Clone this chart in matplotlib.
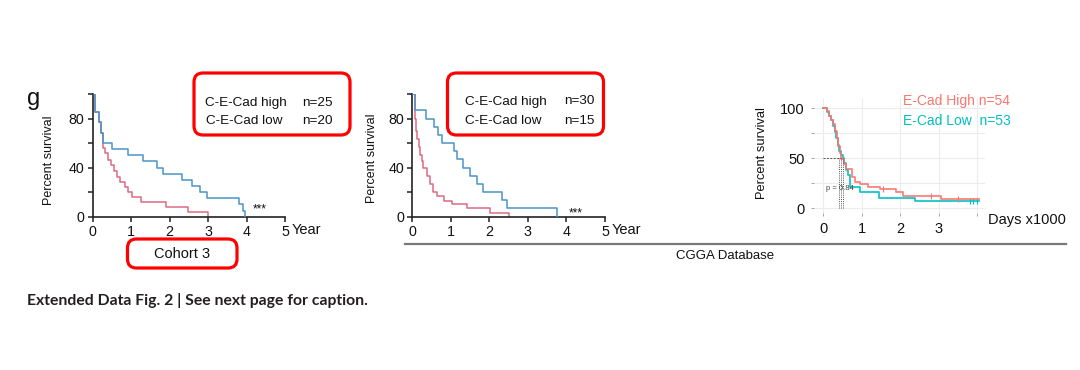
import matplotlib
matplotlib.use("Agg")
import matplotlib.pyplot as plt
from matplotlib.patches import FancyBboxPatch
from matplotlib.transforms import IdentityTransform, blended_transform_factory
from matplotlib.lines import Line2D

# ---------------- data ----------------
# Cohort 3 (years)
c3_high_t = [0, 0.07, 0.16, 0.21, 0.26, 0.49, 0.93, 1.31, 1.66, 1.83, 2.32, 2.58, 2.78, 2.96, 3.81, 3.90, 3.97]
c3_high_s = [100, 85, 77, 68, 60, 55, 50, 45, 40, 35, 30, 25, 20, 15, 10, 5, 0]
c3_low_t = [0, 0.07, 0.16, 0.21, 0.26, 0.33, 0.40, 0.47, 0.55, 0.62, 0.72, 0.83, 0.92, 1.02, 1.25, 1.90, 2.48, 3.0]
c3_low_s = [100, 85, 77, 68, 56, 52, 46, 42, 37, 32, 28, 24, 20, 16, 12, 8, 4, 0]

# CGGA cohort (years)
cg_high_t = [0, 0.06, 0.36, 0.56, 0.66, 0.76, 1.09, 1.17, 1.31, 1.50, 1.67, 1.83, 2.32, 2.45, 3.75]
cg_high_s = [100, 86.7, 80, 73.3, 66.7, 60, 53.3, 46.7, 40, 33.3, 26.7, 20, 13.3, 6.7, 0]
cg_low_t = [0, 0.06, 0.09, 0.12, 0.17, 0.21, 0.25, 0.29, 0.37, 0.46, 0.54, 0.64, 0.81, 1.02, 1.41, 2.02, 2.52]
cg_low_s = [100, 80, 70, 63, 57, 50, 45, 40, 33, 27, 20, 17, 13, 10, 7, 3, 0]

# CGGA E-Cad (days x1000)
ec_high_t = [0, 0.10, 0.16, 0.21, 0.26, 0.31, 0.35, 0.39, 0.43, 0.47, 0.53, 0.58, 0.74, 0.83, 0.96, 1.17, 1.48, 1.90, 2.08, 3.07, 4.05]
ec_high_s = [100, 97, 92, 88, 84, 77, 70, 62, 55, 49, 44, 39, 31, 26, 24, 21, 19, 16, 12, 9, 9]
ec_low_t = [0, 0.09, 0.15, 0.20, 0.25, 0.30, 0.34, 0.38, 0.42, 0.46, 0.50, 0.54, 0.58, 0.64, 0.70, 0.95, 1.45, 2.38, 4.05]
ec_low_s = [100, 96, 92, 88, 82, 76, 70, 63, 57, 53, 50, 45, 38, 33, 21, 16, 10, 7.6, 7.6]
ec_high_cens_t = [1.55, 2.80, 3.50]
ec_high_cens_s = [19, 12, 9]
ec_low_cens_t = [3.80, 3.90, 3.98]
ec_low_cens_s = [7.6, 7.6, 7.6]
ec_median_x = [0.40, 0.46, 0.52]

year_ticks = [0, 1, 2, 3, 4, 5]
year_labels = ["0", "1", "2", "3", "4", "5"]
day_ticks = [0, 1, 2, 3, 4]
day_labels = ["0", "1", "2", "3", ""]

W, H = 1080, 370
plt.rcParams['font.family'] = ['Liberation Sans', 'DejaVu Sans']
fig = plt.figure(figsize=(W / 100, H / 100), dpi=100)
fig.patch.set_facecolor('white')

BLUE = '#4a94c6'
RED = '#dc6a84'
GG_RED = '#f8766d'
GG_CYAN = '#00bfc4'


def ftext(x, y, s, **kw):
    """Text at pixel coords (origin top-left)."""
    return fig.text(x / W, 1 - y / H, s, **kw)


def axes_px(left, right, top, bottom):
    return fig.add_axes([left / W, 1 - bottom / H, (right - left) / W, (bottom - top) / H])


def km_axes(ax):
    ax.set_xlim(0, 5)
    ax.set_ylim(0, 100)
    for sp in ['top', 'right']:
        ax.spines[sp].set_visible(False)
    for sp in ['left', 'bottom']:
        ax.spines[sp].set_linewidth(1.2)
        ax.spines[sp].set_color('#222222')
    ax.set_xticks(year_ticks)
    ax.set_xticklabels(year_labels)
    ax.set_yticks([0, 40, 80])
    ax.set_yticks([20, 60, 100], minor=True)
    ax.tick_params(axis='both', which='both', length=3.5, width=1.1, color='#222222',
                   labelsize=10.3, pad=2.5, labelcolor='#111111')
    ax.patch.set_alpha(0)
    tr = blended_transform_factory(ax.transData, ax.transAxes)
    ax.text(5.16, -0.112, "Year", transform=tr, ha='left', va='center', fontsize=10.5, color='#111111')


# ---------------- Panel 1 ----------------
ax1 = axes_px(92.7, 285, 94, 216.7)
km_axes(ax1)
ax1.step(c3_high_t, c3_high_s, where='post', color=BLUE, lw=1.1, zorder=3)
ax1.step(c3_low_t, c3_low_s, where='post', color=RED, lw=1.1, zorder=2)
ax1.text(4.35, 6, "***", ha='center', va='center', fontsize=8.5, color='#111111')

# ---------------- Panel 2 ----------------
ax2 = axes_px(412.3, 605, 94, 216.7)
km_axes(ax2)
ax2.step(cg_high_t, cg_high_s, where='post', color=BLUE, lw=1.1, zorder=3)
ax2.step(cg_low_t, cg_low_s, where='post', color=RED, lw=1.1, zorder=2)
ax2.text(4.24, 3, "***", ha='center', va='center', fontsize=8.5, color='#111111')

# ---------------- Panel 3 ----------------
ax3 = axes_px(814, 985, 97.7, 213.3)
ax3.set_xlim(-0.24, 4.2)
ax3.set_ylim(-5, 110.5)
for sp in ax3.spines.values():
    sp.set_visible(False)
ax3.set_xticks(day_ticks)
ax3.set_xticklabels(day_labels)
ax3.set_yticks([0, 25, 50, 75, 100])
ax3.set_yticklabels(["0", "", "50", "", "100"])
ax3.grid(True, color='#ececec', lw=0.8)
ax3.set_axisbelow(True)
ax3.tick_params(axis='both', length=2.5, width=0.6, color='#999999', labelsize=10.5,
                labelcolor='#111111', pad=4)
ax3.step(ec_high_t, ec_high_s, where='post', color=GG_RED, lw=1.3, alpha=0.9, zorder=3)
ax3.step(ec_low_t, ec_low_s, where='post', color=GG_CYAN, lw=1.3, alpha=0.9, zorder=2)
ax3.plot(ec_high_cens_t, ec_high_cens_s, ls='none', marker='|', ms=4, mew=0.8, color=GG_RED)
ax3.plot(ec_low_cens_t, ec_low_cens_s, ls='none', marker='|', ms=4, mew=0.8, color=GG_CYAN)
ax3.plot([0, ec_median_x[1]], [50, 50], ls=(0, (2, 1.5)), color='#555555', lw=0.7, zorder=4)
for mx in ec_median_x:
    ax3.plot([mx, mx], [0, 50], ls=(0, (1, 1.2)), color='#555555', lw=0.7, zorder=4)
ax3.text(0.43, 20, "p = 0.84", ha='center', va='center', fontsize=5.5, color='#444444', zorder=5)

ftext(903, 101, "E-Cad High n=54", fontsize=10, color=GG_RED, ha='left', va='center')
ftext(903, 121, "E-Cad Low  n=53", fontsize=10, color=GG_CYAN, ha='left', va='center')
ftext(988, 220, "Days x1000", fontsize=10.5, color='#111111', ha='left', va='center')

# ---------------- y labels ----------------
ftext(49, 160, "Percent survival", rotation=90, ha='center', va='center', fontsize=9, color='#111111')
ftext(372, 158, "Percent survival", rotation=90, ha='center', va='center', fontsize=9, color='#111111')
ftext(762, 153, "Percent survival", rotation=90, ha='center', va='center', fontsize=9.3, color='#111111')

# ---------------- boxes & annotations ----------------
def rbox(x0, y0, x1, y1):
    p = FancyBboxPatch((x0, H - y1), x1 - x0, y1 - y0,
                       boxstyle="round,pad=0,rounding_size=9",
                       transform=IdentityTransform(), facecolor='none',
                       edgecolor='#ff0000', lw=2.3)
    fig.add_artist(p)

rbox(194, 73, 350, 135)
ftext(205, 103, "C-E-Cad high", fontsize=9.7, ha='left', va='center', color='#111111')
ftext(302, 103, "n=25", fontsize=9.7, ha='left', va='center', color='#111111')
ftext(206.5, 121.5, "C-E-Cad low", fontsize=9.7, ha='left', va='center', color='#111111')
ftext(302.5, 121.5, "n=20", fontsize=9.7, ha='left', va='center', color='#111111')

rbox(127.5, 239, 237, 268)
ftext(182, 254.5, "Cohort 3", fontsize=10.5, ha='center', va='center', color='#111111')

rbox(447.5, 73, 603.5, 135)
ftext(465, 101.5, "C-E-Cad high", fontsize=9.7, ha='left', va='center', color='#111111')
ftext(564, 101.5, "n=30", fontsize=9.7, ha='left', va='center', color='#111111')
ftext(465, 120.5, "C-E-Cad low", fontsize=9.7, ha='left', va='center', color='#111111')
ftext(564, 120.5, "n=15", fontsize=9.7, ha='left', va='center', color='#111111')

ftext(34, 99, "g", fontsize=17, ha='center', va='center', color='#111111')

fig.add_artist(Line2D([405 / W, 1066 / W], [1 - 243.5 / H, 1 - 243.5 / H],
                      transform=fig.transFigure, color='#7a7a7a', lw=1.6))
ftext(725, 256, "CGGA Database", fontsize=9.5, ha='center', va='center', color='#111111')

ftext(27, 300, "Extended Data Fig. 2 | See next page for caption.", fontsize=11.3,
      fontweight='bold', family=['Lato', 'DejaVu Sans'], ha='left', va='center', color='#231f20')

fig.savefig("out.png", dpi=100, facecolor='white')
